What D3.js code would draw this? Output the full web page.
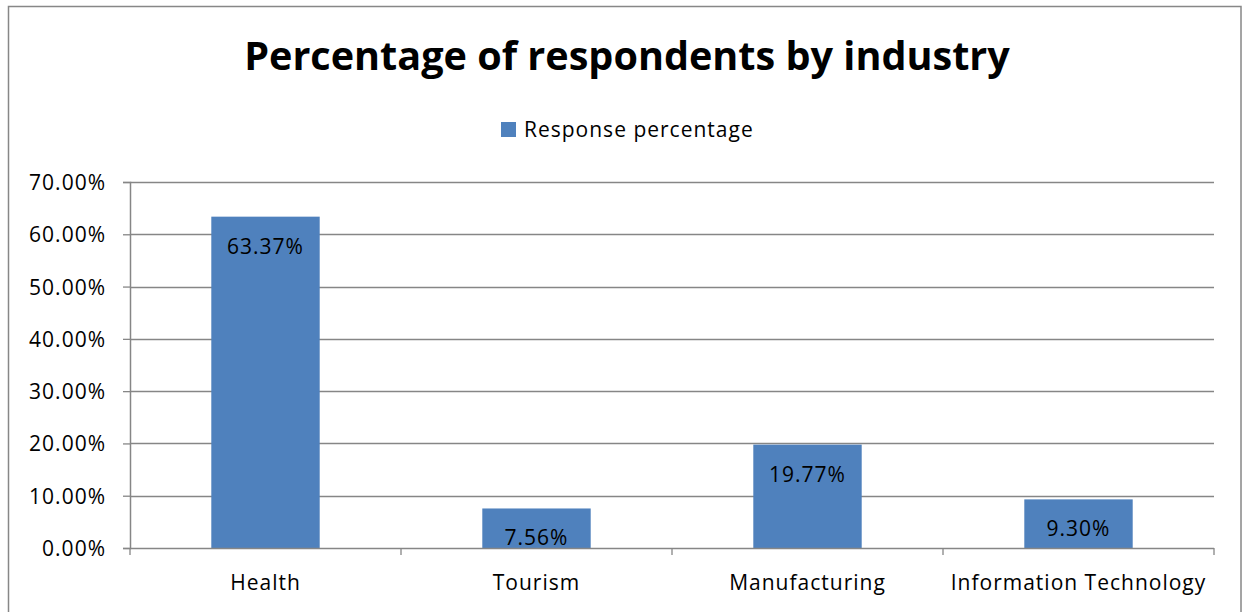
<!DOCTYPE html>
<html>
<head>
<meta charset="utf-8">
<script src="https://cdn.jsdelivr.net/npm/d3@7"></script>
<style>
  html, body { margin: 0; padding: 0; background: #fff; }
  svg { display: block; }
  text { font-family: "Open Sans", Lato, sans-serif; fill: #000; }
  .lbl { letter-spacing: 1px; }
</style>
</head>
<body>
<svg id="chart" width="1245" height="612"></svg>
<script>
// Share of respondents per industry
const categories = ["Health", "Tourism", "Manufacturing", "Information Technology"];
const responsePct = [63.37, 7.56, 19.77, 9.30];
const yTicks = [0, 10, 20, 30, 40, 50, 60, 70];
const seriesName = "Response percentage";
const titleText = "Percentage of respondents by industry";

const W = 1245, H = 612;
const margin = { left: 130, right: 31, top: 182, bottom: 64 };
const plotW = W - margin.left - margin.right;
const plotH = H - margin.top - margin.bottom;
const barColor = "#4F81BD";
const gridColor = "#868686";
const labelFont = "21px";

const svg = d3.select("#chart");

// outer chart frame
svg.append("rect")
  .attr("x", 8.5).attr("y", 6.5)
  .attr("width", 1232.5).attr("height", 620)
  .attr("fill", "none")
  .attr("stroke", "#878787")
  .attr("stroke-width", 1.5);

// title
svg.append("text")
  .attr("x", 627).attr("y", 70)
  .attr("text-anchor", "middle")
  .style("font-weight", "bold")
  .style("font-size", "39.6px")
  .text(titleText);

// legend
const legend = svg.append("g").attr("transform", "translate(501,122)");
legend.append("rect").attr("width", 15).attr("height", 15).attr("fill", barColor);
legend.append("text")
  .attr("class", "lbl")
  .attr("x", 23).attr("y", 15)
  .style("font-size", labelFont)
  .text(seriesName);

const x = d3.scaleBand()
  .domain(categories)
  .range([0, plotW])
  .paddingInner(0.6)
  .paddingOuter(0.3);

const y = d3.scaleLinear().domain([0, 70]).range([plotH, 0]);

const g = svg.append("g").attr("transform", `translate(${margin.left},${margin.top})`);

// horizontal gridlines
g.append("g")
  .selectAll("line")
  .data(yTicks.filter(d => d > 0))
  .join("line")
  .attr("x1", 0).attr("x2", plotW)
  .attr("y1", d => Math.round(y(d)) + 0.5)
  .attr("y2", d => Math.round(y(d)) + 0.5)
  .attr("stroke", gridColor)
  .attr("stroke-width", 1.3);

// y axis
const yAxis = g.append("g")
  .call(d3.axisLeft(y).tickValues(yTicks).tickSize(7).tickPadding(17)
    .tickFormat(d => d.toFixed(2) + "%"));
yAxis.select(".domain").attr("stroke", gridColor).attr("stroke-width", 1.5);
yAxis.selectAll(".tick line").attr("stroke", gridColor).attr("stroke-width", 1.3);
yAxis.selectAll(".tick text")
  .attr("class", "lbl")
  .style("font-size", labelFont)
  .style("font-family", "'Open Sans', Lato, sans-serif")
  .attr("fill", "#000")
  .attr("dy", "0.36em");

// bars
g.append("g")
  .selectAll("rect")
  .data(categories)
  .join("rect")
  .attr("x", d => x(d))
  .attr("width", x.bandwidth())
  .attr("y", (d, i) => y(responsePct[i]))
  .attr("height", (d, i) => plotH - y(responsePct[i]))
  .attr("fill", barColor);

// x axis with ticks at category boundaries
const step = plotW / categories.length;
const xAxisG = g.append("g").attr("transform", `translate(0,${plotH})`);
xAxisG.append("line")
  .attr("x1", 0).attr("x2", plotW)
  .attr("y1", 0.5).attr("y2", 0.5)
  .attr("stroke", gridColor).attr("stroke-width", 1.5);
xAxisG.selectAll("line.tick")
  .data(d3.range(categories.length + 1))
  .join("line")
  .attr("class", "tick")
  .attr("x1", i => i * step).attr("x2", i => i * step)
  .attr("y1", 0).attr("y2", 7)
  .attr("stroke", gridColor).attr("stroke-width", 1.3);
xAxisG.selectAll("text")
  .data(categories)
  .join("text")
  .attr("class", "lbl")
  .attr("x", d => x(d) + x.bandwidth() / 2)
  .attr("y", 42)
  .attr("text-anchor", "middle")
  .style("font-size", labelFont)
  .text(d => d);

// value labels inside bar tops
g.append("g")
  .selectAll("text")
  .data(categories)
  .join("text")
  .attr("class", "lbl")
  .attr("x", d => x(d) + x.bandwidth() / 2)
  .attr("y", (d, i) => y(responsePct[i]) + 37)
  .attr("text-anchor", "middle")
  .style("font-size", labelFont)
  .text((d, i) => responsePct[i].toFixed(2) + "%");
</script>
</body>
</html>
